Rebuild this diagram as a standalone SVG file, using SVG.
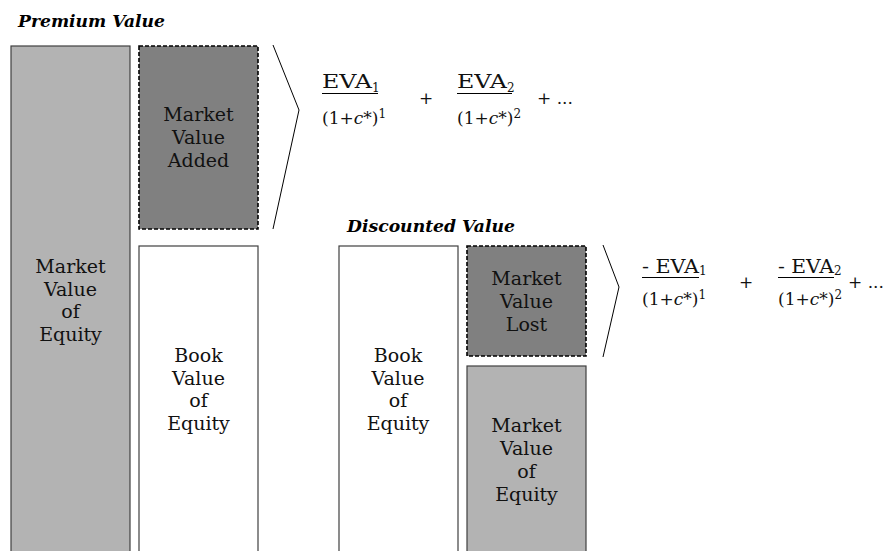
<svg xmlns="http://www.w3.org/2000/svg" width="893" height="551" viewBox="0 0 893 551">
  <style>
    .lbl { font-family: "DejaVu Serif", "Liberation Serif", serif; font-size: 19px; fill: #111; text-anchor: middle; }
    .ttl { font-family: "DejaVu Serif", "Liberation Serif", serif; font-size: 17px; font-weight: bold; font-style: italic; fill: #000; }
    .eq { font-family: "DejaVu Serif", "Liberation Serif", serif; font-size: 17px; fill: #111; }
    .num { font-size: 18px; }
    .sub { font-size: 12px; }
    .it { font-style: italic; }
    .box { stroke: #404040; stroke-width: 1.2; }
    .light { fill: #b3b3b3; }
    .dark { fill: #808080; stroke: #000; stroke-width: 1.6; stroke-dasharray: 4 2; }
    .white { fill: #fff; }
    .brace { fill: none; stroke: #000; stroke-width: 1; }
    .bar { stroke: #000; stroke-width: 1; }
  </style>

  <rect width="893" height="551" fill="#fff"/>

  <!-- section titles -->
  <text class="ttl" x="18" y="27" textLength="147" lengthAdjust="spacingAndGlyphs">Premium Value</text>
  <text class="ttl" x="347" y="232" textLength="168" lengthAdjust="spacingAndGlyphs">Discounted Value</text>

  <!-- premium side -->
  <g id="mv-equity-premium">
    <rect class="box light" x="11" y="46" width="119" height="520"/>
    <text class="lbl" x="70.5" y="273">Market</text>
    <text class="lbl" x="70.5" y="296">Value</text>
    <text class="lbl" x="70.5" y="318">of</text>
    <text class="lbl" x="70.5" y="341">Equity</text>
  </g>

  <g id="mva">
    <rect class="dark" x="139" y="46" width="119" height="183"/>
    <text class="lbl" x="198.5" y="121">Market</text>
    <text class="lbl" x="198.5" y="144">Value</text>
    <text class="lbl" x="198.5" y="167">Added</text>
  </g>

  <g id="bv-equity-premium">
    <rect class="box white" x="139" y="246" width="119" height="320"/>
    <text class="lbl" x="198.5" y="362">Book</text>
    <text class="lbl" x="198.5" y="385">Value</text>
    <text class="lbl" x="198.5" y="407">of</text>
    <text class="lbl" x="198.5" y="430">Equity</text>
  </g>

  <!-- discounted side -->
  <g id="bv-equity-discounted">
    <rect class="box white" x="339" y="246" width="119" height="320"/>
    <text class="lbl" x="398" y="362">Book</text>
    <text class="lbl" x="398" y="385">Value</text>
    <text class="lbl" x="398" y="407">of</text>
    <text class="lbl" x="398" y="430">Equity</text>
  </g>

  <g id="mvl">
    <rect class="dark" x="467" y="246" width="119" height="110"/>
    <text class="lbl" x="526.5" y="285">Market</text>
    <text class="lbl" x="526.5" y="308">Value</text>
    <text class="lbl" x="526.5" y="331">Lost</text>
  </g>

  <g id="mv-equity-discounted">
    <rect class="box light" x="467" y="366" width="119" height="200"/>
    <text class="lbl" x="526.5" y="432">Market</text>
    <text class="lbl" x="526.5" y="455">Value</text>
    <text class="lbl" x="526.5" y="478">of</text>
    <text class="lbl" x="526.5" y="501">Equity</text>
  </g>

  <!-- braces leading into the discounted EVA sums -->
  <g id="connectors">
    <polyline class="brace" points="273,45 299,110 273,229"/>
    <polyline class="brace" points="603,245 619,287 603,357"/>
  </g>

  <!-- MVA = sum of discounted EVA -->
  <g id="sum-premium">
    <text class="eq num" x="322" y="88" textLength="50" lengthAdjust="spacingAndGlyphs">EVA</text>
    <text class="eq sub" x="372" y="92">1</text>
    <line class="bar" x1="322" y1="93.5" x2="378" y2="93.5"/>
    <text class="eq" x="322" y="124">(1+<tspan class="it">c</tspan>*)<tspan class="sub" dy="-6">1</tspan></text>
    <text class="eq" x="419" y="104">+</text>
    <text class="eq num" x="457" y="88" textLength="50" lengthAdjust="spacingAndGlyphs">EVA</text>
    <text class="eq sub" x="507" y="92">2</text>
    <line class="bar" x1="457" y1="93.5" x2="512" y2="93.5"/>
    <text class="eq" x="457" y="124">(1+<tspan class="it">c</tspan>*)<tspan class="sub" dy="-6">2</tspan></text>
    <text class="eq" x="537" y="104">+ ...</text>
  </g>

  <!-- MVL = sum of discounted negative EVA -->
  <g id="sum-discounted">
    <text class="eq num" x="642" y="273" textLength="57" lengthAdjust="spacingAndGlyphs">- EVA</text>
    <text class="eq sub" x="699" y="275">1</text>
    <line class="bar" x1="642" y1="277.5" x2="699" y2="277.5"/>
    <text class="eq" x="642" y="305">(1+<tspan class="it">c</tspan>*)<tspan class="sub" dy="-6">1</tspan></text>
    <text class="eq" x="739" y="288">+</text>
    <text class="eq num" x="778" y="273" textLength="56" lengthAdjust="spacingAndGlyphs">- EVA</text>
    <text class="eq sub" x="834" y="275">2</text>
    <line class="bar" x1="778" y1="277.5" x2="834" y2="277.5"/>
    <text class="eq" x="778" y="305">(1+<tspan class="it">c</tspan>*)<tspan class="sub" dy="-6">2</tspan></text>
    <text class="eq" x="848" y="288">+ ...</text>
  </g>
</svg>
